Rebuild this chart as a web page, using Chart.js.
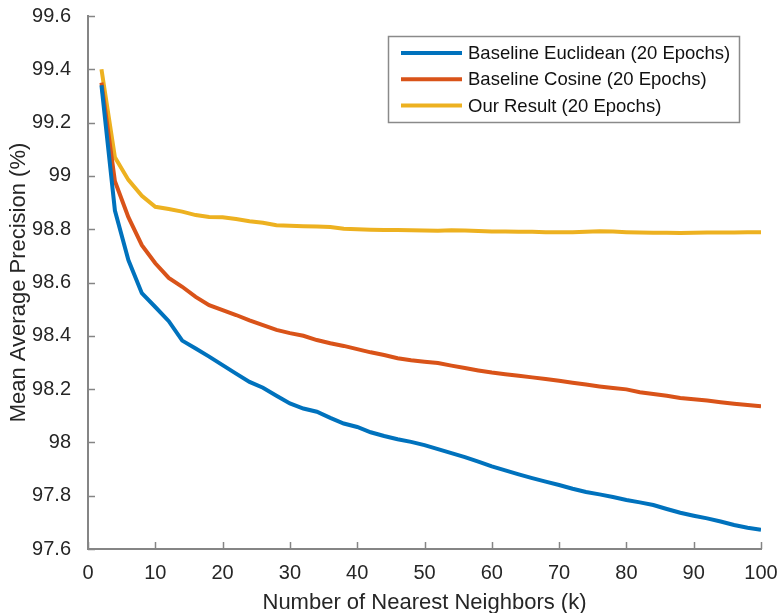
<!DOCTYPE html>
<html>
<head>
<meta charset="utf-8">
<script src="https://cdn.jsdelivr.net/npm/chart.js@4.4.1/dist/chart.umd.min.js"></script>
<style>
  html, body { margin: 0; padding: 0; background: #ffffff; }
  #wrap { width: 778px; height: 613px; position: relative; }
</style>
</head>
<body>
<div id="wrap"><canvas id="c" width="778" height="613"></canvas></div>
<script>
// ---- data ----
const kValues = [2,4,6,8,10,12,14,16,18,20,22,24,26,28,30,32,34,36,38,40,42,44,46,48,50,
                 52,54,56,58,60,62,64,66,68,70,72,74,76,78,80,82,84,86,88,90,92,94,96,98,100];

const euclideanMAP = [99.34,98.87,98.684,98.56,98.508,98.455,98.382,98.352,98.322,98.29,
                      98.258,98.227,98.205,98.175,98.146,98.127,98.115,98.092,98.071,98.058,
                      98.038,98.024,98.012,98.002,97.99,97.975,97.96,97.945,97.928,97.91,
                      97.895,97.88,97.866,97.853,97.84,97.826,97.814,97.805,97.795,97.784,
                      97.775,97.765,97.75,97.736,97.725,97.715,97.703,97.69,97.68,97.672];

const cosineMAP = [99.35,98.98,98.845,98.74,98.672,98.617,98.584,98.546,98.515,98.496,
                   98.478,98.458,98.44,98.422,98.41,98.40,98.384,98.372,98.362,98.35,
                   98.338,98.328,98.316,98.308,98.303,98.298,98.288,98.279,98.27,98.262,
                   98.256,98.25,98.244,98.238,98.231,98.224,98.217,98.21,98.204,98.199,
                   98.188,98.182,98.175,98.167,98.162,98.157,98.151,98.145,98.14,98.136];

const ourMAP = [99.40,99.07,98.985,98.925,98.884,98.876,98.866,98.853,98.846,98.845,
                98.838,98.83,98.824,98.815,98.813,98.811,98.81,98.808,98.802,98.80,
                98.798,98.797,98.797,98.796,98.795,98.794,98.796,98.795,98.793,98.791,
                98.791,98.790,98.790,98.789,98.789,98.789,98.790,98.792,98.791,98.789,
                98.788,98.787,98.787,98.786,98.787,98.788,98.788,98.788,98.789,98.789];

const seriesLabels = ['Baseline Euclidean (20 Epochs)', 'Baseline Cosine (20 Epochs)', 'Our Result (20 Epochs)'];
const xTitle = 'Number of Nearest Neighbors (k)';
const yTitle = 'Mean Average Precision (%)';

// ---- style ----
const FONT = '"Liberation Sans", Arial, Helvetica, sans-serif';
const colors = ['#0072BD', '#D95319', '#EDB120'];
const axisColor = '#858585';
const textColor = '#262626';

function pairs(vals) { return kValues.map((k, i) => ({ x: k, y: vals[i] })); }

const innerTicks = {
  id: 'innerTicks',
  afterDatasetsDraw(chart) {
    const { ctx, chartArea, scales } = chart;
    ctx.save();
    ctx.strokeStyle = axisColor;
    ctx.lineWidth = 1.5;
    const len = 7;
    scales.x.ticks.forEach(t => {
      const px = Math.round(scales.x.getPixelForValue(t.value)) + 0.5;
      ctx.beginPath(); ctx.moveTo(px, chartArea.bottom); ctx.lineTo(px, chartArea.bottom - len); ctx.stroke();
    });
    scales.y.ticks.forEach(t => {
      const py = Math.round(scales.y.getPixelForValue(t.value)) + 0.5;
      ctx.beginPath(); ctx.moveTo(chartArea.left, py); ctx.lineTo(chartArea.left + len, py); ctx.stroke();
    });
    ctx.restore();
  }
};

const boxLegend = {
  id: 'boxLegend',
  afterDraw(chart) {
    const { ctx } = chart;
    const x0 = 388, y0 = 36, w = 351, h = 86;
    ctx.save();
    ctx.fillStyle = '#ffffff';
    ctx.fillRect(x0, y0, w, h);
    ctx.strokeStyle = '#8a8a8a';
    ctx.lineWidth = 1.5;
    ctx.strokeRect(x0 + 0.5, y0 + 0.5, w, h);
    ctx.font = '18.5px ' + FONT;
    ctx.textBaseline = 'middle';
    ctx.textAlign = 'left';
    chart.data.datasets.forEach((ds, i) => {
      const y = y0 + 17 + i * 26.3;
      ctx.strokeStyle = ds.borderColor;
      ctx.lineWidth = 4;
      ctx.beginPath(); ctx.moveTo(401, y); ctx.lineTo(462, y); ctx.stroke();
      ctx.fillStyle = '#111111';
      ctx.fillText(ds.label, 468, y + 1);
    });
    ctx.restore();
  }
};

new Chart(document.getElementById('c'), {
  type: 'line',
  data: {
    datasets: [
      { label: seriesLabels[0], data: pairs(euclideanMAP), borderColor: colors[0] },
      { label: seriesLabels[1], data: pairs(cosineMAP), borderColor: colors[1] },
      { label: seriesLabels[2], data: pairs(ourMAP), borderColor: colors[2] }
    ].map(d => Object.assign(d, { borderWidth: 4, pointRadius: 0, tension: 0, fill: false, backgroundColor: d.borderColor }))
  },
  options: {
    responsive: false,
    animation: false,
    devicePixelRatio: 1,
    layout: { padding: { left: 0, right: 17, top: 16, bottom: 0 } },
    plugins: { legend: { display: false }, tooltip: { enabled: false } },
    scales: {
      x: {
        type: 'linear', min: 0, max: 100,
        grid: { display: false, drawTicks: false },
        border: { display: true, color: axisColor, width: 2 },
        ticks: { stepSize: 10, padding: 12, color: textColor, font: { family: FONT, size: 20 }, maxRotation: 0 },
        title: { display: true, text: xTitle, color: textColor, font: { family: FONT, size: 22, lineHeight: 1 }, padding: { top: 0, bottom: -1 } },
        afterFit(s) { s.height = 64; s.paddingLeft = 0; s.paddingRight = 0; }
      },
      y: {
        type: 'linear', min: 97.6, max: 99.6,
        grid: { display: false, drawTicks: false },
        border: { display: true, color: axisColor, width: 2 },
        ticks: { stepSize: 0.2, padding: 17, color: textColor, font: { family: FONT, size: 20 },
                 callback: v => String(Number(v.toFixed(1))) },
        title: { display: true, text: yTitle, color: textColor, font: { family: FONT, size: 22, lineHeight: 1 }, padding: { top: 8, bottom: 0 } },
        afterFit(s) { s.width = 88; s.paddingTop = 0; s.paddingBottom = 0; }
      }
    }
  },
  plugins: [innerTicks, boxLegend]
});
</script>
</body>
</html>
